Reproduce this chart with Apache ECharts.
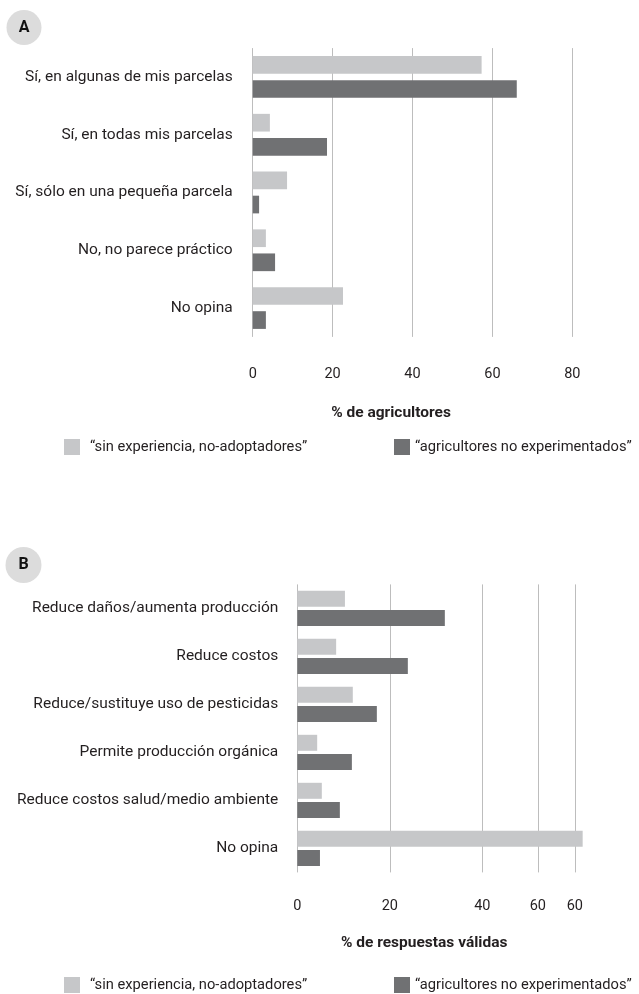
<!DOCTYPE html>
<html>
<head>
<meta charset="utf-8">
<script src="https://cdn.jsdelivr.net/npm/echarts@6/dist/echarts.min.js"></script>
<style>
html,body{margin:0;padding:0;background:#fff;}
#chart{width:639px;height:994px;}
</style>
</head>
<body>
<div id="chart"></div>
<script>
// ---- Data ----
const seriesNames = ['\u201Csin experiencia, no-adoptadores\u201D', '\u201Cagricultores no experimentados\u201D'];

const categoriesA = ['Sí, en algunas de mis parcelas', 'Sí, en todas mis parcelas', 'Sí, sólo en una pequeña parcela', 'No, no parece práctico', 'No opina'];
const lightA = [57.3, 4.3, 8.6, 3.3, 22.6];
const darkA = [66.1, 18.6, 1.6, 5.6, 3.3];
const axisNameA = '% de agricultores';

const categoriesB = ['Reduce daños/aumenta producción', 'Reduce costos', 'Reduce/sustituye uso de pesticidas', 'Permite producción orgánica', 'Reduce costos salud/medio ambiente', 'No opina'];
const lightB = [10.3, 8.4, 12.0, 4.3, 5.3, 61.7];
const darkB = [31.9, 23.9, 17.2, 11.8, 9.2, 4.9];
const axisNameB = '% de respuestas válidas';
const tickValuesB = [0, 20, 40, 52, 60];
const tickLabelsB = ['0', '20', '40', '60', '60'];

// ---- Styles ----
const FONT = "Roboto, 'Liberation Sans', sans-serif";
const TXT = '#231f20';
const LIGHT = '#c6c7c9';
const DARK = '#707173';
const GRIDC = '#bdbdbd';
const LABEL_SIZE = 15.5;

const chart = echarts.init(document.getElementById('chart'), null, {renderer: 'canvas'});

function catAxis(idx, cats, margin) {
  return {
    type: 'category', gridIndex: idx, data: cats, inverse: true,
    axisLine: {show: false}, axisTick: {show: false},
    axisLabel: {color: TXT, fontFamily: FONT, fontSize: LABEL_SIZE, margin: margin}
  };
}
function legendItem(left, top, name, pad) {
  return {left: left, top: top, padding: 0, itemWidth: 16, itemHeight: 16, icon: 'rect', data: [name],
          textStyle: {color: TXT, fontFamily: FONT, fontSize: 14.7, lineHeight: 16, padding: [0, 0, 0, pad]}};
}

const option = {
  animation: false,
  backgroundColor: '#fff',
  textStyle: {fontFamily: FONT},
  grid: [
    {left: 252.7, top: 48.1, width: 319.6, height: 288.8, outerBoundsMode: 'none', containLabel: false},
    {left: 297.3, top: 584.4, width: 286.75, height: 288, outerBoundsMode: 'none', containLabel: false}
  ],
  xAxis: [
    {
      type: 'value', gridIndex: 0, min: 0, max: 80, interval: 20,
      axisLine: {show: false}, axisTick: {show: false},
      splitLine: {show: true, lineStyle: {color: GRIDC, width: 1}},
      axisLabel: {color: TXT, fontFamily: FONT, fontSize: 14.5, margin: 30},
      name: axisNameA, nameLocation: 'middle', nameGap: 68,
      nameTextStyle: {color: TXT, fontFamily: FONT, fontSize: 15.5, fontWeight: 'bold', padding: [0, 43, 0, 0]}
    },
    {
      type: 'value', gridIndex: 1, min: 0, max: 62,
      axisLine: {show: false},
      axisTick: {show: false, customValues: tickValuesB},
      splitLine: {show: true, lineStyle: {color: GRIDC, width: 1}},
      axisLabel: {
        color: TXT, fontFamily: FONT, fontSize: 14.5, margin: 26,
        customValues: tickValuesB,
        formatter: function (v) { const i = tickValuesB.indexOf(v); return i >= 0 ? tickLabelsB[i] : ''; }
      },
      name: axisNameB, nameLocation: 'middle', nameGap: 63,
      nameTextStyle: {color: TXT, fontFamily: FONT, fontSize: 15.5, fontWeight: 'bold', padding: [0, 33, 0, 0]}
    }
  ],
  yAxis: [catAxis(0, categoriesA, 20), catAxis(1, categoriesB, 19)],
  legend: [
    legendItem(64, 439, seriesNames[0], 5),
    legendItem(394, 439, seriesNames[1], 0),
    legendItem(64, 977, seriesNames[0], 5),
    legendItem(394, 977, seriesNames[1], 0)
  ],
  graphic: [
    {type: 'circle', shape: {cx: 24, cy: 27.5, r: 17.5}, style: {fill: '#dcdcdc'}, silent: true},
    {type: 'text', x: 24, y: 27.5, style: {text: 'A', fill: '#111', font: "bold 16px " + FONT, align: 'center', verticalAlign: 'middle'}, silent: true},
    {type: 'circle', shape: {cx: 23.5, cy: 565, r: 18}, style: {fill: '#dcdcdc'}, silent: true},
    {type: 'text', x: 23.5, y: 565, style: {text: 'B', fill: '#111', font: "bold 16px " + FONT, align: 'center', verticalAlign: 'middle'}, silent: true}
  ],
  series: [
    {name: seriesNames[0], type: 'bar', xAxisIndex: 0, yAxisIndex: 0, data: lightA, barWidth: 17.7, barGap: '36%', itemStyle: {color: LIGHT}},
    {name: seriesNames[1], type: 'bar', xAxisIndex: 0, yAxisIndex: 0, data: darkA, barWidth: 17.7, barGap: '36%', itemStyle: {color: DARK}},
    {name: seriesNames[0], type: 'bar', xAxisIndex: 1, yAxisIndex: 1, data: lightB, barWidth: 16, barGap: '20%', itemStyle: {color: LIGHT}},
    {name: seriesNames[1], type: 'bar', xAxisIndex: 1, yAxisIndex: 1, data: darkB, barWidth: 16, barGap: '20%', itemStyle: {color: DARK}}
  ]
};
chart.setOption(option);
</script>
</body>
</html>
